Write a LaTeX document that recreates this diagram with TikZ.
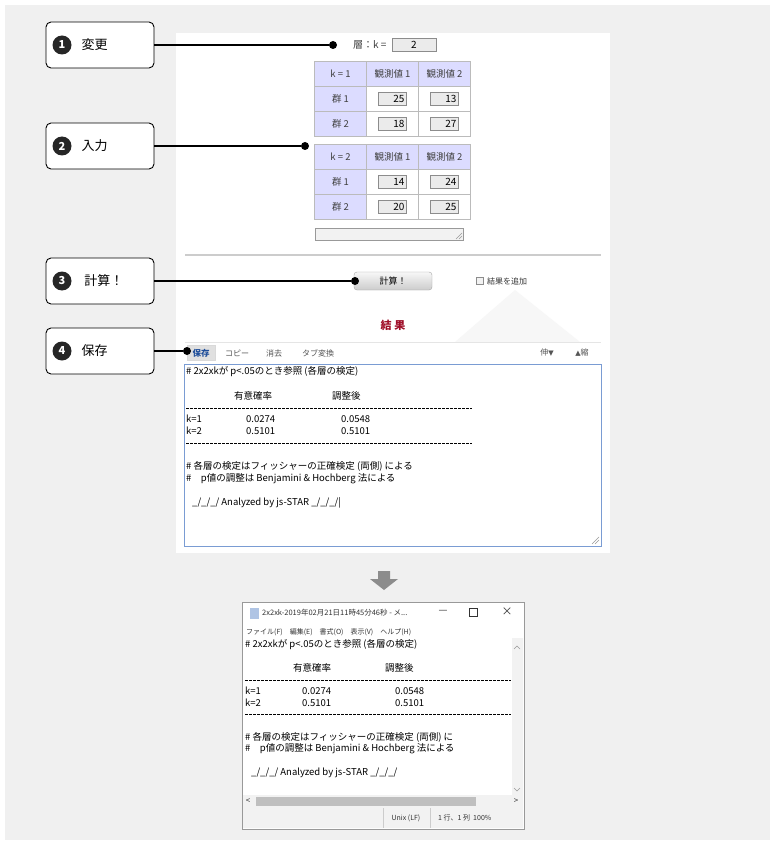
\documentclass[tikz,border=0pt]{standalone}
\usepackage{fontspec}
\setmainfont{Noto Sans CJK JP}
\newfontfamily\jp{Noto Sans CJK JP}
\newfontfamily\dv{DejaVu Sans}
\definecolor{bgc}{HTML}{F0F0F0}
\definecolor{hdr}{HTML}{DCDCFF}
\definecolor{cellb}{HTML}{BBBBBB}
\definecolor{inb}{HTML}{EBEBEB}
\definecolor{resred}{HTML}{A0102A}
\definecolor{tab}{HTML}{1F4E9A}
\definecolor{tabt}{HTML}{555555}
\definecolor{taba}{HTML}{7A9CD3}
\tikzset{
 callout/.style={draw=black,line width=0.9pt,rounded corners=5pt,fill=white,minimum width=108pt,minimum height=46pt},
 numdot/.style={circle,fill=black!85,text=white,inner sep=0pt,minimum size=19pt,font=\bfseries\fontsize{11}{11}\selectfont},
 lead/.style={line width=1.3pt},
 pin/.style={circle,fill=black,inner sep=0pt,minimum size=8pt},
 hcell/.style={draw=cellb,fill=hdr,minimum width=52pt,minimum height=25pt,font=\fontsize{9.5}{9.5}\selectfont,text=black!75},
 wcell/.style={draw=cellb,fill=white,minimum width=52pt,minimum height=25pt,font=\fontsize{9}{9}\selectfont},
 inbox/.style={draw=black!45,fill=inb,minimum width=28pt,minimum height=13pt,inner sep=1pt,font=\fontsize{10}{10}\selectfont,align=right,text width=24pt},
 mono/.style={anchor=west,inner sep=0pt,font=\fontsize{9.5}{10}\selectfont},
 small/.style={inner sep=0pt,font=\fontsize{8}{8}\selectfont,text=black!80},
}
\begin{document}
\begin{tikzpicture}[x=1pt,y=-1pt]
\useasboundingbox (0,0) rectangle (774,845);
\fill[bgc] (5,5) rectangle (770,840);
% web panel
\fill[white] (176,33) rectangle (610,553);
\fill[black!3] (455,342) -- (515,290) -- (580,342) -- cycle;
% callouts
\foreach \n/\t/\y in {1/変更/45,2/入力/146,3/\ 計算！/281,4/保存/351}{
  \node[callout] (c\n) at (100,\y) {};
  \node[numdot] (d\n) at (62,\y) {\n};
  \node[anchor=west,font=\fontsize{13}{13}\selectfont] (t\n) at (78,\y) {\t};
}
% layer
\node[anchor=east,font=\fontsize{10}{10}\selectfont,text=black!75] (lay) at (390,45) {層：k =};
\node[draw=black!45,fill=inb,minimum width=44pt,minimum height=13pt,inner sep=0pt,font=\fontsize{10}{10}\selectfont] (kbox) at (414,45) {2};
\node[pin] (p1) at (333,45) {};
% tables
\foreach \tb/\y/\k/\a/\b/\c/\d in {A/61/1/25/13/18/27,B/144/2/14/24/20/25}{
  \node[hcell] (\tb h0) at (340.5,\y+13) {k = \k};
  \node[hcell] (\tb h1) at (392.5,\y+13) {観測値 1};
  \node[hcell] (\tb h2) at (444.5,\y+13) {観測値 2};
  \node[hcell] (\tb r1) at (340.5,\y+38) {群 1};
  \node[wcell] (\tb c11) at (392.5,\y+38) {};
  \node[wcell] (\tb c12) at (444.5,\y+38) {};
  \node[hcell] (\tb r2) at (340.5,\y+63) {群 2};
  \node[wcell] (\tb c21) at (392.5,\y+63) {};
  \node[wcell] (\tb c22) at (444.5,\y+63) {};
  \node[inbox] at (\tb c11) {\a};
  \node[inbox] at (\tb c12) {\b};
  \node[inbox] at (\tb c21) {\c};
  \node[inbox] at (\tb c22) {\d};
}
\node[pin] (p2) at (305,146) {};
\node[draw=black!40,fill=black!5,minimum width=148pt,minimum height=12pt,inner sep=0pt] (ta) at (389,234.5) {};
\draw[black!40] (459,239) -- (462,236) (456,239) -- (462,233);
\draw[black!20,line width=1.5pt] (185,255) -- (601,255);
% button
\node[draw=black!35,rounded corners=3pt,top color=black!3,bottom color=black!20,minimum width=78pt,minimum height=18pt,inner sep=0pt,font=\fontsize{9}{9}\selectfont] (btn) at (393,281) {計算！};
\node[pin] (p3) at (355,281) {};
\node[draw=black!45,fill=black!5,minimum size=7pt,inner sep=0pt] (chk) at (480,281) {};
\node[small,anchor=west] (chkt) at (487,281) {結果を追加};
% result
\node[font=\bfseries\fontsize{11}{11}\selectfont,text=resred] (res) at (393,325) {結 果};
\draw[black!10] (185,342) -- (601,342);
\node[fill=black!12,draw=black!15,minimum width=28pt,minimum height=15pt,inner sep=0pt,font=\bfseries\fontsize{8.5}{8.5}\selectfont,text=tab] (sv) at (201,353) {保存};
\node[small,text=tabt] (cp) at (237,353) {コピー};
\node[small,text=tabt] (er) at (274,353) {消去};
\node[small,text=tabt] (tb) at (318,353) {タブ変換};
\node[small,text=tabt] (ex) at (547,353) {伸{\dv\fontsize{7}{7}\selectfont ▼}};
\node[small,text=tabt] (sh) at (582,353) {{\dv\fontsize{7}{7}\selectfont ▲}縮};
\node[pin] (p4) at (187,351) {};
\node[draw=taba,line width=0.8pt,minimum width=417pt,minimum height=182pt,inner sep=0pt] (out) at (392.5,455) {};
\draw[black!40] (595,544) -- (599,540) (592,544) -- (599,537);
\begin{scope}[shift={(186,0)}]
\node[mono] (o1) at (0,372) {\# 2x2xkが p<.05のとき参照 (各層の検定)};
\node[mono] (o2) at (48,396) {有意確率};
\node[mono] (o3) at (146,396) {調整後};
\node[mono] (o4) at (0,419) {k=1};
\node[mono] (o5) at (60,419) {0.0274};
\node[mono] (o6) at (155,419) {0.0548};
\node[mono] (o7) at (0,431) {k=2};
\node[mono] (o8) at (60,431) {0.5101};
\node[mono] (o9) at (155,431) {0.5101};
\node[mono] (o10) at (0,466) {\# 各層の検定はフィッシャーの正確検定 (両側) による};
\node[mono] (o11) at (0,479) {\#　p値の調整は Benjamini \& Hochberg 法による};
\node[mono] (o12) at (6,503) {\_/\_/\_/ Analyzed by js-STAR \_/\_/\_/|};
\draw[dash pattern=on 2.5pt off 1.5pt] (0,408) -- (286,408) (0,443) -- (286,443);
\end{scope}
% leaders
\draw[lead] (c1.east) -- (p1);
\draw[lead] (c2.east) -- (p2);
\draw[lead] (c3.east) -- (p3);
\draw[lead] (c4.east) -- (p4);
% arrow
\fill[black!45] (378,571) rectangle (390,579) (370,579) -- (398,579) -- (384,590) -- cycle;
% notepad
\node[draw=black!40,fill=white,minimum width=282pt,minimum height=227pt,inner sep=0pt,anchor=north west] (win) at (242,602) {};
\fill[taba!60] (250,608) rectangle (259,619);
\node[small,anchor=west,font=\fontsize{7.5}{7.5}\selectfont] (title) at (262,613) {2x2xk-2019年02月21日11時45分46秒 - メ...};
\node[small,font=\fontsize{10}{10}\selectfont] (mn) at (443,612) {—};
\draw[black!80] (469,608) rectangle (477,616);
\node[small,font=\fontsize{11}{11}\selectfont] (cl) at (507,612) {×};
\node[small,anchor=west,font=\fontsize{7}{7}\selectfont] (menu) at (246,632) {ファイル(F)\quad 編集(E)\quad 書式(O)\quad 表示(V)\quad ヘルプ(H)};
\fill[black!5] (512,638) rectangle (523,795) (243,795) rectangle (523,808) (243,808) rectangle (523,828);
\fill[black!25] (256,797) rectangle (476,806);
\draw[black!40] (514,649) -- (517,646) -- (520,649) (514,788) -- (517,791) -- (520,788);
\node[small,font=\fontsize{8}{8}\selectfont] (la) at (248,801) {<};
\node[small,font=\fontsize{8}{8}\selectfont] (ra) at (516,801) {>};
\draw[black!20] (383,808) -- (383,828) (430,808) -- (430,828);
\node[small,font=\fontsize{7}{7}\selectfont] (s1) at (406,818) {Unix (LF)};
\node[small,font=\fontsize{7}{7}\selectfont,anchor=west] (s2) at (438,818) {1 行、1 列\ \ 100\%};
\begin{scope}[shift={(245,0)}]
\node[mono] (n1) at (0,645) {\# 2x2xkが p<.05のとき参照 (各層の検定)};
\node[mono] (n2) at (48,668) {有意確率};
\node[mono] (n3) at (140,668) {調整後};
\node[mono] (n4) at (0,691) {k=1};
\node[mono] (n5) at (57,691) {0.0274};
\node[mono] (n6) at (150,691) {0.0548};
\node[mono] (n7) at (0,703) {k=2};
\node[mono] (n8) at (57,703) {0.5101};
\node[mono] (n9) at (150,703) {0.5101};
\node[mono] (n10) at (0,737) {\# 各層の検定はフィッシャーの正確検定 (両側) に};
\node[mono] (n11) at (0,749) {\#　p値の調整は Benjamini \& Hochberg 法による};
\node[mono] (n12) at (6,773) {\_/\_/\_/ Analyzed by js-STAR \_/\_/\_/};
\draw[dash pattern=on 2.5pt off 1.5pt] (0,680) -- (266,680) (0,714) -- (266,714);
\end{scope}
\end{tikzpicture}
\end{document}
